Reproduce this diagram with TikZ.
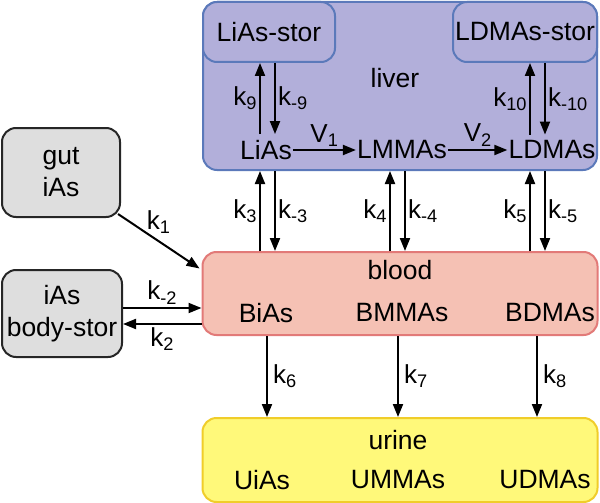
\documentclass[tikz,border=0pt]{standalone}
\usepackage{fontspec}
\setmainfont{Liberation Sans}
\usetikzlibrary{arrows.meta,positioning}
\definecolor{liverfill}{HTML}{B2AFDA}
\definecolor{liverline}{HTML}{5B79BA}
\definecolor{bloodfill}{HTML}{F5C1B4}
\definecolor{bloodline}{HTML}{E27A78}
\definecolor{urinefill}{HTML}{FFF97A}
\definecolor{urineline}{HTML}{F0CD2A}
\definecolor{grayfill}{HTML}{DEDEDE}

\begin{document}
\begin{tikzpicture}[x=1pt,y=-1pt,font=\fontsize{26.5}{32}\selectfont,
  box/.style={draw,rounded corners=14pt,line width=2pt,inner sep=0pt,align=center},
  liverbox/.style={box,fill=liverfill,draw=liverline},
  bloodbox/.style={box,fill=bloodfill,draw=bloodline},
  urinebox/.style={box,fill=urinefill,draw=urineline},
  graybox/.style={box,fill=grayfill,draw=black!85},
  species/.style={inner xsep=1pt,inner ysep=6pt},
  arr/.style={-{Triangle[length=13pt,width=10pt]},line width=2pt},
  rate/.style={font=\fontsize{26}{30}\selectfont,inner sep=2pt}]
\useasboundingbox (0,0) rectangle (600,503);

% compartments
\node[liverbox,minimum width=394,minimum height=168] (liver) at (400,86) {};
\node[liverbox,minimum width=132,minimum height=60] (liasstor) at (269,32) {LiAs-stor};
\node[liverbox,minimum width=144,minimum height=60] (ldmasstor) at (525,32) {LDMAs-stor};
\node[bloodbox,minimum width=395,minimum height=83] (blood) at (400,293.5) {};
\node[urinebox,minimum width=395,minimum height=84] (urine) at (400,460) {};
\node[graybox,minimum width=118,minimum height=89] (gut) at (61,172.5) {gut\\iAs};
\node[graybox,minimum width=120,minimum height=87] (bodystor) at (62,313.5) {iAs\\body-stor};

\node at (395,78) {liver};
\node at (400,270) {blood};
\node at (398,440) {urine};

% species
\node[species] (lias) at (266,150) {LiAs};
\node[species] (lmmas) at (402,150) {LMMAs};
\node[species] (ldmas) at (552,150) {LDMAs};
\node[species] (bias) at (266,313) {BiAs};
\node[species] (bmmas) at (402,313) {BMMAs};
\node[species] (bdmas) at (550,313) {BDMAs};
\node (uias) at (262,480) {UiAs};
\node (ummas) at (398,480) {UMMAs};
\node (udmas) at (545,480) {UDMAs};

% liver reactions and storage
\draw[arr] (lias) -- node[rate,above=1pt] {V\textsubscript{1}} (lmmas);
\draw[arr] (lmmas) -- node[rate,above=1pt] {V\textsubscript{2}} (ldmas);
\draw[arr] (260,0 |- lias.north) -- node[rate,left] {k\textsubscript{9}} (260,0 |- liasstor.south);
\draw[arr] (275,0 |- liasstor.south) -- node[rate,right] {k\textsubscript{-9}} (275,0 |- lias.north);
\draw[arr] (530,0 |- ldmas.north) -- node[rate,left] {k\textsubscript{10}} (530,0 |- ldmasstor.south);
\draw[arr] (545,0 |- ldmasstor.south) -- node[rate,right] {k\textsubscript{-10}} (545,0 |- ldmas.north);

% blood <-> liver
\foreach \u/\d/\ku/\kd in {260/275/3/-3,390/405/4/-4,530/545/5/-5} {
  \draw[arr] (\u,0 |- blood.north) -- node[rate,left] {k\textsubscript{\ku}} (\u,0 |- liver.south);
  \draw[arr] (\d,0 |- liver.south) -- node[rate,right] {k\textsubscript{\kd}} (\d,0 |- blood.north);
}

% blood -> urine
\foreach \x/\k in {267/6,398/7,537/8}
  \draw[arr] (\x,0 |- blood.south) -- node[rate,right=3pt] {k\textsubscript{\k}} (\x,0 |- urine.north);

% gut and body storage
\draw[arr] ([shift={(-3,-4)}]gut.south east) -- node[rate,above=5pt] {k\textsubscript{1}} ([shift={(-2,-25)}]blood.west);
\coordinate (rowin) at (0,308);
\coordinate (rowout) at (0,324);
\draw[arr] (bodystor.east |- rowin) -- node[rate,above=1pt] {k\textsubscript{-2}} (blood.west |- rowin);
\draw[arr] (blood.west |- rowout) -- node[rate,below=1pt] {k\textsubscript{2}} (bodystor.east |- rowout);
\end{tikzpicture}
\end{document}
